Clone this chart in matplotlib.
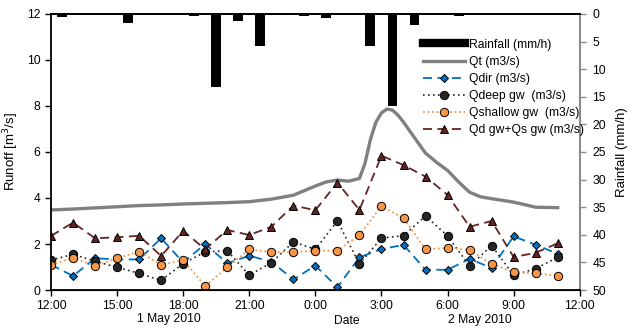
import numpy as np
import matplotlib
matplotlib.use('Agg')
import matplotlib.pyplot as plt
from matplotlib.lines import Line2D

plt.rcParams['font.family'] = ['Liberation Sans', 'DejaVu Sans']
font_tick = 8.7
font_label = 9.5

# hourly time steps, 0 = 12:00 on 1 May 2010
hours = np.arange(0, 24)

qdir = [1.10, 0.61, 1.38, 1.33, 1.33, 2.25, 1.20, 2.00, 1.16, 1.49, 1.23, 0.46,
        1.06, 0.12, 1.42, 1.78, 1.96, 0.88, 0.88, 1.35, 0.96, 2.33, 1.97, 1.57]
qdeep = [1.30, 1.55, 1.25, 0.99, 0.72, 0.42, 1.15, 1.66, 1.71, 0.64, 1.19, 2.09,
         1.77, 3.00, 1.13, 2.26, 2.36, 3.22, 2.35, 1.04, 1.93, 0.64, 0.93, 1.42]
qshallow = [1.09, 1.41, 1.04, 1.38, 1.67, 1.09, 1.30, 0.17, 0.99, 1.77, 1.65, 1.65,
            1.71, 1.71, 2.38, 3.65, 3.12, 1.77, 1.83, 1.74, 1.13, 0.78, 0.72, 0.62]
qdgw_qsgw = [2.35, 2.93, 2.25, 2.29, 2.36, 1.48, 2.57, 1.77, 2.61, 2.39, 2.75, 3.67,
             3.47, 4.67, 3.48, 5.84, 5.43, 4.93, 4.13, 2.75, 3.00, 1.43, 1.62, 2.03]

# total runoff, read on a finer step around the peak
qt_hours = [0, 1, 2, 3, 4, 5, 6, 7, 8, 9, 10, 11, 12, 12.5, 13, 13.5, 14, 14.25,
            14.5, 14.75, 15, 15.25, 15.5, 15.75, 16, 16.5, 17, 17.5, 18, 18.5,
            19, 19.5, 20, 21, 22, 23]
qt = [3.48, 3.52, 3.57, 3.62, 3.67, 3.70, 3.74, 3.77, 3.80, 3.84, 3.95, 4.12,
      4.52, 4.70, 4.78, 4.73, 4.85, 5.50, 6.55, 7.30, 7.70, 7.87, 7.82, 7.60,
      7.30, 6.62, 5.95, 5.55, 5.20, 4.70, 4.25, 4.05, 3.97, 3.82, 3.60, 3.58]

# rainfall per hour, bars at the middle of each hour
rain_hours = [0.5, 3.5, 6.5, 7.5, 8.5, 9.5, 10.5, 11.5, 12.5, 14.5, 15.5, 16.5, 18.5]
rainfall = [0.6, 1.6, 0.4, 13.2, 1.2, 5.8, 0.25, 0.4, 0.8, 5.8, 16.7, 2.0, 0.4]

xtick_pos = [0, 3, 6, 9, 12, 15, 18, 21, 24]
xtick_labels = ['12:00', '15:00', '18:00', '21:00', '0:00', '3:00', '6:00', '9:00', '12:00']

fig = plt.figure(figsize=(6.35, 3.3), dpi=100)
ax1 = fig.add_axes([0.0803, 0.1212, 0.8327, 0.8364])
ax2 = ax1.twinx()
ax1.set_zorder(ax2.get_zorder() + 1)
ax1.patch.set_visible(False)

# rainfall on the inverted right axis
ax2.bar(rain_hours, rainfall, width=0.45, color='black', label='Rainfall (mm/h)')
ax2.set_ylim(50, 0)
ax2.set_yticks(np.arange(0, 51, 5))
ax2.set_yticklabels([str(v) for v in range(0, 51, 5)], fontsize=font_tick)
ax2.set_ylabel('Rainfall (mm/h)', fontsize=font_label)
ax2.yaxis.set_label_coords(1.068, 0.5)
ax2.spines['right'].set_color('#8c8c8c')
ax2.spines['right'].set_linewidth(1.5)
ax2.tick_params(axis='y', colors='#8c8c8c', labelcolor='black', length=4, width=1, pad=5)

ax1.plot(qt_hours, qt, color='#808080', lw=2.4, label='Qt (m3/s)')
ax1.plot(hours, qdir, color='#0070C0', ls=(0, (5, 3)), lw=1.3, marker='D', ms=4.2,
         mfc='#0070C0', mec='black', mew=0.7, label='Qdir (m3/s)')
ax1.plot(hours, qdeep, color='#262626', ls=(0, (1, 2)), lw=1.2, marker='o', ms=6,
         mfc='#262626', mec='black', mew=0.7, label='Qdeep gw  (m3/s)')
ax1.plot(hours, qshallow, color='#F79646', ls=(0, (1, 1.5)), lw=1.3, marker='o', ms=6,
         mfc='#F79646', mec='black', mew=0.7, label='Qshallow gw  (m3/s)')
ax1.plot(hours, qdgw_qsgw, color='#632523', ls=(0, (5, 3)), lw=1.3, marker='^', ms=6,
         mfc='#632523', mec='black', mew=0.7, label='Qd gw+Qs gw (m3/s)')

ax1.set_xlim(0, 24)
ax1.set_ylim(0, 12)
ax1.set_xticks(xtick_pos)
ax1.set_xticklabels(xtick_labels, fontsize=font_tick)
ax1.set_yticks(np.arange(0, 13, 2))
ax1.set_yticklabels([str(v) for v in range(0, 13, 2)], fontsize=font_tick)
ax1.set_ylabel('Runoff [m$^3$/s]', fontsize=font_label)
ax1.yaxis.set_label_coords(-0.056, 0.5)
ax1.tick_params(length=4, width=1)
for s in ['left', 'bottom', 'top']:
    ax1.spines[s].set_linewidth(1.3)
ax1.spines['right'].set_visible(False)
ax2.spines['left'].set_visible(False)
ax2.spines['top'].set_linewidth(1.3)

# date captions under the time axis
ax1.text(0.223, -0.105, '1 May 2010', transform=ax1.transAxes, ha='center', va='center', fontsize=font_tick)
ax1.text(0.560, -0.113, 'Date', transform=ax1.transAxes, ha='center', va='center', fontsize=font_tick)
ax1.text(0.811, -0.108, '2 May 2010', transform=ax1.transAxes, ha='center', va='center', fontsize=font_tick)

h1, l1 = ax1.get_legend_handles_labels()
h2, l2 = ax2.get_legend_handles_labels()
rain_handle = Line2D([0], [0], color='black', lw=6)
ax1.legend([rain_handle] + h1, l2 + l1, loc='upper left', bbox_to_anchor=(0.694, 0.928),
           frameon=False, fontsize=font_tick, handlelength=3.5, handletextpad=0.33,
           labelspacing=0.42, borderaxespad=0)

plt.savefig('out.png', dpi=100)
